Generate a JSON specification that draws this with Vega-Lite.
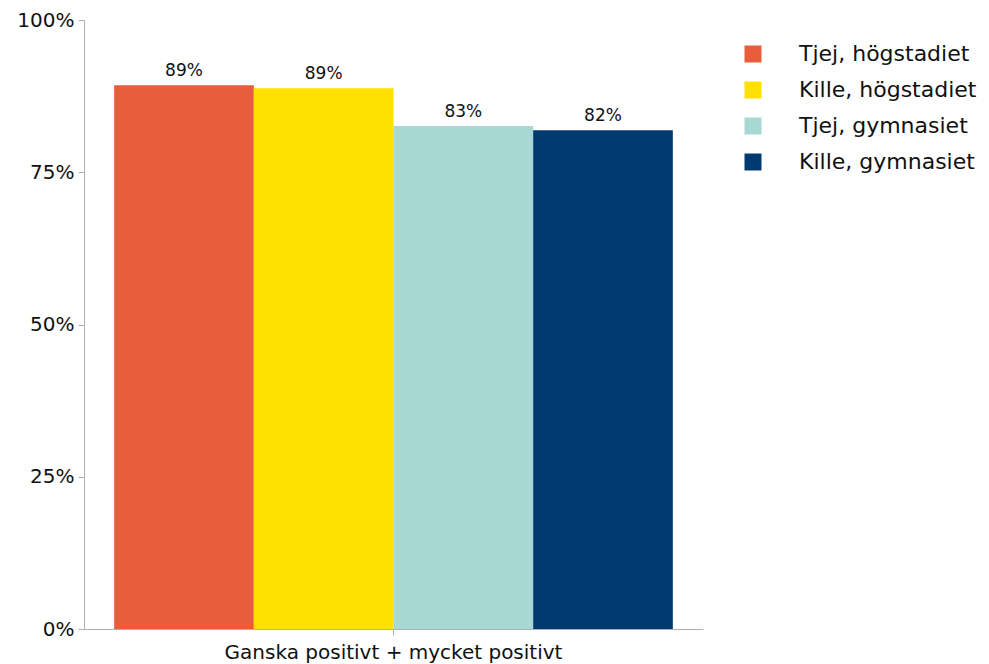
{
  "$schema": "https://vega.github.io/schema/vega-lite/v6.json",
  "width": 619,
  "height": 609,
  "autosize": {"type": "none"},
  "padding": {"left": 84, "top": 20, "right": 286, "bottom": 35},
  "config": {
    "font": "DejaVu Sans",
    "view": {"stroke": null},
    "axis": {"domainColor": "#b0b0b0", "tickColor": "#b0b0b0", "labelColor": "#111111", "grid": false, "labelFont": "DejaVu Sans"},
    "legend": {"labelFont": "DejaVu Sans"},
    "text": {"font": "DejaVu Sans"}
  },
  "data": {
    "values": [
      {"kategori": "Ganska positivt + mycket positivt", "grupp": "Tjej, högstadiet", "andel": 0.893},
      {"kategori": "Ganska positivt + mycket positivt", "grupp": "Kille, högstadiet", "andel": 0.888},
      {"kategori": "Ganska positivt + mycket positivt", "grupp": "Tjej, gymnasiet", "andel": 0.826},
      {"kategori": "Ganska positivt + mycket positivt", "grupp": "Kille, gymnasiet", "andel": 0.819}
    ]
  },
  "encoding": {
    "x": {
      "field": "kategori", "type": "nominal",
      "scale": {"paddingInner": 0, "paddingOuter": 0.054},
      "axis": {"title": null, "labelAngle": 0, "labelFontSize": 20, "labelLimit": 0, "labelPadding": 7, "tickSize": 6}
    },
    "xOffset": {
      "field": "grupp", "type": "nominal",
      "sort": ["Tjej, högstadiet", "Kille, högstadiet", "Tjej, gymnasiet", "Kille, gymnasiet"],
      "scale": {"paddingInner": 0, "paddingOuter": 0}
    },
    "y": {
      "field": "andel", "type": "quantitative",
      "scale": {"domain": [0, 1]},
      "axis": {"title": null, "format": ".0%", "values": [0, 0.25, 0.5, 0.75, 1], "labelFontSize": 20, "tickSize": 6, "labelPadding": 4}
    }
  },
  "layer": [
    {
      "mark": {"type": "bar"},
      "encoding": {
        "color": {
          "field": "grupp", "type": "nominal",
          "sort": ["Tjej, högstadiet", "Kille, högstadiet", "Tjej, gymnasiet", "Kille, gymnasiet"],
          "scale": {
            "domain": ["Tjej, högstadiet", "Kille, högstadiet", "Tjej, gymnasiet", "Kille, gymnasiet"],
            "range": ["#E95E3A", "#FFE000", "#A8D8D4", "#013A70"]
          },
          "legend": {
            "title": null, "orient": "none", "legendX": 658, "legendY": 23,
            "symbolType": "square", "symbolSize": 289, "symbolStrokeWidth": 0,
            "labelFontSize": 22, "labelColor": "#111111", "labelOffset": 35, "labelLimit": 0, "rowPadding": 14
          }
        }
      }
    },
    {
      "mark": {"type": "text", "baseline": "bottom", "dy": -5, "fontSize": 17, "color": "#111111"},
      "encoding": {
        "text": {"field": "andel", "type": "quantitative", "format": ".0%"}
      }
    }
  ]
}
